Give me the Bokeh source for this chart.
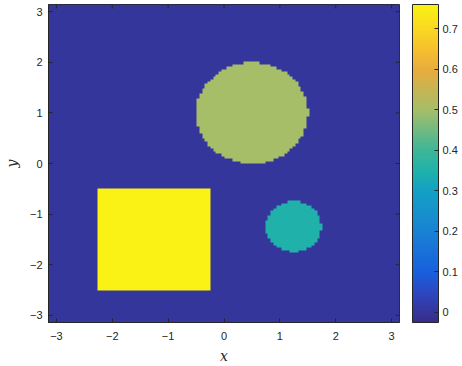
import numpy as np
from bokeh.plotting import figure
from bokeh.models import LinearColorMapper, ColorBar, FixedTicker
from bokeh.embed import file_html
from bokeh.resources import INLINE

# ---- data ----
grid_n = 128
background_level = 0.0
rect_x = [-2.25, -0.25]
rect_y = [-2.5, -0.5]
rect_level = 0.76
circle_cx = [0.5, 1.25]
circle_cy = [1.0, -1.25]
circle_r = [1.0, 0.5]
circle_level = [0.5, 0.35]
color_low = -0.025
color_high = 0.76
axis_ticks = [-3, -2, -1, 0, 1, 2, 3]
cbar_ticks = [0, 0.1, 0.2, 0.3, 0.4, 0.5, 0.6, 0.7]

# colormap anchors (value, rgb) as seen on the reference colour bar
cmap_values = [-0.025, 0.0, 0.05, 0.1, 0.2, 0.3, 0.35, 0.4, 0.5, 0.6, 0.65, 0.7, 0.76]
cmap_colors = [(55, 45, 140), (53, 54, 155), (45, 72, 195), (24, 96, 222), (25, 130, 212),
               (18, 162, 196), (32, 178, 170), (62, 182, 152), (165, 190, 105),
               (232, 172, 62), (246, 192, 45), (250, 216, 34), (249, 242, 20)]

ts = np.linspace(color_low, color_high, 256)
cv = np.array(cmap_values)
cc = np.array(cmap_colors, dtype=float)
palette = ["#%02x%02x%02x" % tuple(int(round(np.interp(t, cv, cc[:, k]))) for k in range(3))
           for t in ts]

# ---- build image from shapes ----
lim = np.pi
centers = -lim + (np.arange(grid_n) + 0.5) * (2 * lim / grid_n)
X, Y = np.meshgrid(centers, centers)
Z = np.full((grid_n, grid_n), background_level)
Z[(X >= rect_x[0]) & (X <= rect_x[1]) & (Y >= rect_y[0]) & (Y <= rect_y[1])] = rect_level
for cx, cy, r, lv in zip(circle_cx, circle_cy, circle_r, circle_level):
    Z[(X - cx) ** 2 + (Y - cy) ** 2 <= r ** 2] = lv

mapper = LinearColorMapper(palette=palette, low=color_low, high=color_high)

FONT = "Liberation Sans"
TXT = "#262626"
FW, FH = 351, 318

p = figure(frame_width=FW, frame_height=FH, x_range=(-lim, lim), y_range=(-lim, lim),
           output_backend="svg", toolbar_location=None,
           min_border_left=0, min_border_top=4, min_border_right=0, min_border_bottom=0)
p.image(image=[Z], x=-lim, y=-lim, dw=2 * lim, dh=2 * lim, color_mapper=mapper)
p.grid.visible = False
p.outline_line_color = TXT
p.outline_line_width = 1

for ax in (p.xaxis[0], p.yaxis[0]):
    ax.ticker = FixedTicker(ticks=axis_ticks)
    ax.major_tick_in = 4
    ax.major_tick_out = 0
    ax.minor_tick_line_color = None
    ax.axis_line_color = TXT
    ax.major_tick_line_color = TXT
    ax.major_label_text_font = FONT
    ax.major_label_text_font_size = "11px"
    ax.major_label_text_color = TXT
    ax.axis_label_text_font = "DejaVu Serif"
    ax.axis_label_text_font_style = "italic"
    ax.axis_label_text_font_size = "14px"
    ax.axis_label_text_color = TXT
p.xaxis[0].axis_label = "x"
p.yaxis[0].axis_label = "y"
p.xaxis[0].major_label_standoff = 9
p.xaxis[0].axis_label_standoff = 5
p.yaxis[0].major_label_standoff = 6
p.yaxis[0].axis_label_standoff = 7

# mirrored inward ticks on top and right edges
tk = np.array(axis_ticks, dtype=float)
p.ray(x=tk, y=np.full(len(tk), lim), length=4, length_units="screen",
      angle=-np.pi / 2, line_color=TXT, line_width=1)
p.ray(x=np.full(len(tk), lim), y=tk, length=4, length_units="screen",
      angle=np.pi, line_color=TXT, line_width=1)

cb = ColorBar(color_mapper=mapper, ticker=FixedTicker(ticks=cbar_ticks),
              width=26, height=FH, padding=0, margin=0,
              location=(13, 0),
              major_tick_in=4, major_tick_out=0, minor_tick_line_color=None,
              major_tick_line_color=TXT, bar_line_color=TXT,
              label_standoff=4,
              major_label_text_font=FONT, major_label_text_font_size="11px",
              major_label_text_color=TXT)
p.add_layout(cb, "right")

open("out.html", "w").write(file_html(p, INLINE))
